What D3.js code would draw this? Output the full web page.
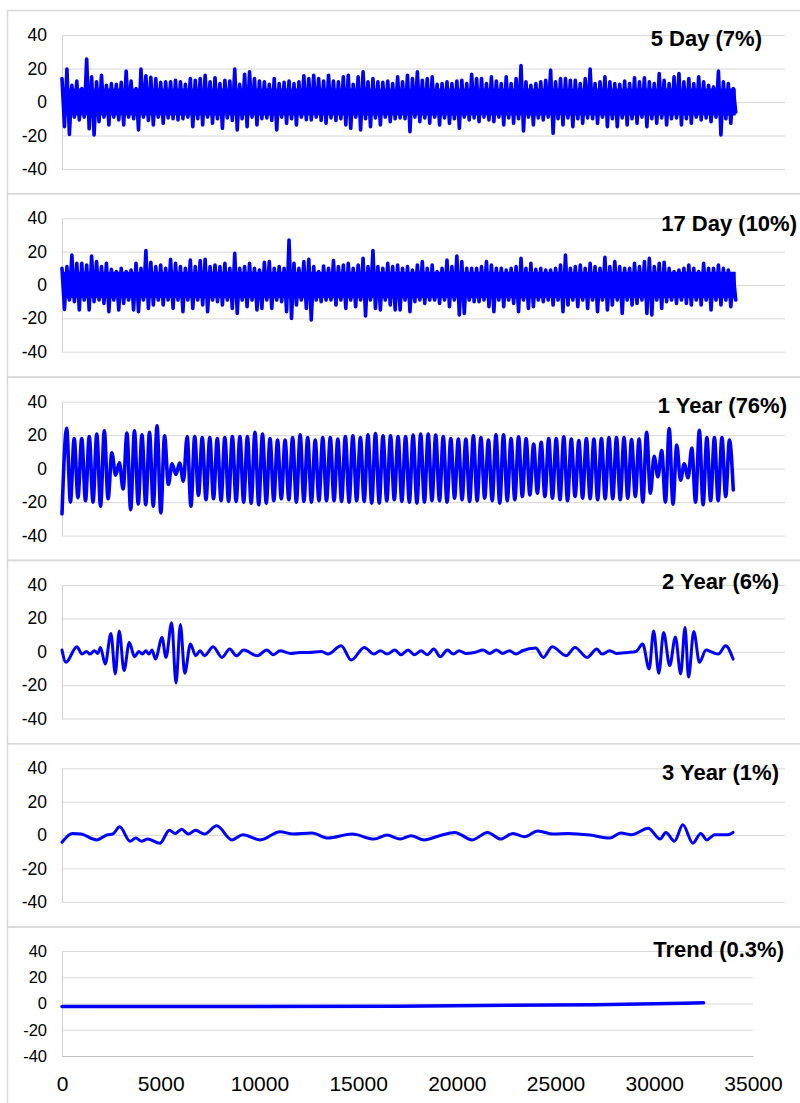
<!DOCTYPE html>
<html>
<head>
<meta charset="utf-8">
<script src="https://cdn.jsdelivr.net/npm/d3@7"></script>
<style>
  body { margin: 0; background: #fff; }
  svg { display: block; }
  text { font-family: "Liberation Sans", Arial, sans-serif; fill: #000; }
</style>
</head>
<body>
<svg id="chart" width="800" height="1103"></svg>
<script>

/* ---------- データ ---------- */

// 軸の目盛
const xTicks = [0, 5000, 10000, 15000, 20000, 25000, 30000, 35000];
const yTicks = [-40, -20, 0, 20, 40];

// パネルのタイトル
const titles = ["5 Day (7%)", "17 Day (10%)", "1 Year (76%)", "2 Year (6%)", "3 Year (1%)", "Trend (0.3%)"];

// 5 Day / 17 Day : 250 日ごとの上側・下側の振れ幅
const envStep = 250;
const coreLevel = 8;   // 帯が途切れずに塗りつぶされている幅
const fiveDayUpper = [
  14, 19.7, 10, 12.5, 8, 25.7, 15, 12, 16, 10,
  11, 10.5, 11.7, 18.5, 12.5, 8, 19.7, 15.7, 14.7, 14,
  11.7, 12, 12, 13, 12, 10.5, 14, 13, 14, 16,
  12, 14.5, 11, 13, 12.5, 19.7, 10.5, 16.5, 18, 14,
  12.5, 12, 10.5, 14, 11, 11.7, 12.5, 11, 12, 15.7,
  14, 16, 14, 12.5, 16, 12.5, 12, 15, 16, 10.5,
  15, 18, 12, 14, 12, 11.7, 12.5, 11, 15, 12,
  16, 14, 18, 13, 14, 15, 10.5, 11, 12, 11,
  12.5, 13, 11, 16.5, 14, 14, 11, 15, 12.5, 11,
  15, 11, 14, 21.7, 12, 10, 11, 12, 13, 19,
  12, 14, 14, 13, 13, 11, 14, 19.7, 11, 12,
  15, 12, 11, 10.5, 12.5, 11, 14.5, 12, 14.5, 12,
  11, 17, 13, 11, 15, 17, 12, 14, 11, 15,
  12, 10, 9, 18.5, 12, 11, 8
];
const fiveDayLower = [
  -14.7, -19.3, -9, -10.7, -9, -16, -19.7, -11.7, -9, -13.7,
  -9, -10.7, -13.7, -9, -10, -16.7, -9, -11, -13.7, -9,
  -12.7, -9.5, -10, -10.7, -10, -9, -14.7, -10, -13.7, -9,
  -12.7, -10, -15.7, -9.5, -11, -16.7, -10, -14.7, -9, -13.7,
  -10, -9.5, -11, -16.7, -9, -12.7, -10, -13.7, -9, -10.5,
  -10.7, -9, -11, -12.7, -9.5, -11, -10, -13.7, -15.7, -9,
  -16.7, -10, -14.7, -9.5, -13.7, -9, -11.7, -10, -9.5, -10,
  -17.7, -9, -11.7, -9.5, -12.7, -9, -13.7, -9.5, -12.7, -10,
  -15.7, -9, -10.7, -9.5, -11.7, -9, -10.7, -11.7, -9, -13.7,
  -9.5, -12.7, -10, -17.3, -9, -13.7, -9.5, -10.7, -9, -18.7,
  -10, -13.7, -9.5, -14.7, -10, -12.7, -9.5, -10, -12.7, -9,
  -14.7, -10, -14.7, -9.5, -13.7, -10, -12.7, -9, -14.7, -10,
  -12.7, -9.5, -13.7, -10, -9.5, -13.7, -10, -12.7, -9, -10.7,
  -9.5, -11.7, -9, -19.7, -10, -12.7, -6
];
const seventeenDayUpper = [
  10, 11, 18, 13, 13, 12, 17.4, 14, 11, 13,
  9.4, 8, 10, 8, 9, 13, 10, 20.6, 13.6, 11,
  12, 10, 15.4, 13, 11, 10, 15, 11, 14.6, 15.4,
  11, 12, 11, 13, 10, 19, 10, 11, 13, 10,
  9, 13.6, 14, 10, 11, 10, 27, 13, 10, 14,
  15.4, 11, 8, 11.4, 10, 14.6, 11, 12, 13, 10,
  12, 16, 11, 20.6, 11, 10, 13, 11, 12, 10,
  11, 9, 12, 14, 10, 12, 8, 10, 15, 11,
  17.4, 14, 10, 10, 10, 11, 14, 12, 10, 10,
  9, 10, 11, 16, 10, 13, 9.4, 10, 9, 9,
  10, 12, 18, 10, 11, 12, 10, 13, 11, 10,
  16.6, 11, 14, 11, 10, 10, 13, 11, 14, 16,
  11, 13, 13.6, 10, 8, 9, 10, 12, 10, 8,
  13, 10, 10, 12, 10, 9, 6
];
const seventeenDayLower = [
  -14.6, -9, -10, -15, -9, -15, -10, -9, -11, -16,
  -9, -15, -11, -9, -15, -16, -9, -14, -12, -9,
  -12, -9, -14, -9, -16, -9, -14, -9, -12, -16,
  -9, -10, -12, -9, -14, -17, -9, -13, -9, -15,
  -14, -9, -14, -9, -10, -16, -20, -12, -9, -14,
  -21, -9, -10, -9, -9, -12, -9, -14, -9, -13,
  -9, -18.6, -9, -14, -15, -9, -12, -15, -15, -9,
  -16, -10, -9, -11, -9, -9, -11, -9, -13, -9,
  -18, -17, -9, -10, -10, -9, -13, -16, -9, -13,
  -9, -11, -16, -9, -14, -13, -9, -10, -9, -12,
  -9, -16, -12, -9, -13, -9, -14, -9, -16, -9,
  -15, -12, -9, -17, -9, -12, -11, -9, -17, -18,
  -9, -14, -10, -9, -11, -9, -11, -12, -9, -12,
  -9, -15, -9, -12, -9, -13, -9
];

// 1 Year : 各周期の山と谷
const oneYearFirstPeak = 236;
const oneYearPeriod = 381.5;
const oneYearStart = -27;
const oneYearEnd = -12.7;
const oneYearLastX = 34000;
const oneYearPeaks = [
  24.1, 18, 18, 19.2, 20.6, 22.5, 9.4, 3.5, 21.2, 22.5,
  20.2, 21.6, 25.5, 19.6, 2.9, 3.3, 19.2, 19.2, 18.6, 18.6,
  18, 18.6, 19.2, 19.2, 19.2, 21.6, 20.6, 18, 17, 17,
  18.6, 20.2, 18.6, 17, 18.6, 18.6, 17.6, 19.2, 19.6, 18.6,
  20.2, 21, 19.6, 19.6, 19.2,
  19.2, 20, 20.6, 20.6, 20, 19.2, 18, 17.6, 17.6, 19.6,
  18.6, 17, 20.2, 20.2, 18, 19, 18, 14.7, 15.7, 18,
  18, 19, 17.6, 16.7, 18, 17.6, 18, 18.6, 18.6, 18.6,
  17.3, 17.6, 21.6, 7.3, 10.8, 23.9, 14.1, 2.9, 12.2, 22.9,
  18.6, 18.6, 18.6, 17
];
const oneYearTroughs = [
  -20, -17.3, -19.2, -20, -22.5, -18, -3.9, -12.2, -24.5, -21.2,
  -21.6, -22.5, -26.5, -9.4, -3.5, -7.5, -22.5, -16, -18.6, -18,
  -19.2, -19.6, -19.6, -20, -20.6, -21.6, -20.6, -19.2, -18, -18.6,
  -20, -19.6, -20, -19.2, -19.2, -19.2, -19.6, -20, -19.2, -19.6,
  -20.6, -20.6, -19.2, -18.6,
  -19.6, -20, -20.6, -20, -19.2, -19.2, -20, -17.6, -18.6, -19.6,
  -19.2, -17.6, -19.2, -20.6, -19.2, -18.6, -16.7, -15.7, -14.7, -16.7,
  -17.6, -18.6, -19.2, -16.7, -17.6, -18, -18.6, -18, -18, -18.6,
  -17.6, -16.7, -20, -14.7, -4.9, -20, -21.2, -6.9, -5.5, -20,
  -21.6, -19.2, -19.2, -16.7
];

// 2 Year : 山と谷の位置と値
const twoYearX = [
  0, 198, 752, 1017, 1238, 1415, 1637, 1814, 1947, 2190,
  2478, 2699, 2898, 3142, 3407, 3673, 3894, 4071, 4248, 4403,
  4558, 4735, 5067, 5266, 5554, 5775, 5996, 6218, 6505, 6771,
  6992, 7214, 7656, 8099, 8497, 8829, 9205, 9891, 10378, 10710,
  11042, 11595, 12038, 12480, 13144, 13476, 14140, 14649, 15313, 15800,
  16132, 16464, 16862, 17172, 17526, 17858, 18190, 18500, 18832, 19164,
  19518, 19828, 20115, 20447, 20888, 21332, 21664, 21996, 22328, 22660,
  22992, 23324, 23988, 24386, 24829, 25537, 25980, 26599, 27086, 27352,
  27750, 28082, 28636, 29078, 29410, 29742, 29966, 30229, 30471, 30782,
  31070, 31336, 31557, 31735, 32000, 32287, 32619, 32951, 33238, 33615,
  33990
];
const twoYearY = [
  1.0, -6.3, 3, -1.4, 0.2, -1.4, 0.6, -1, 2.6, -7.3,
  10.9, -13.3, 12.5, -11.3, 5.5, -3, 0.2, -1.4, 0.6, -1.4,
  1, -4.4, 8.5, -3.4, 17.4, -18.8, 16.4, -12.9, 4.6, -2.4,
  0.6, -2.4, 3, -3.4, 1.6, -2.4, 1, -2.4, 1, -1.8,
  0.6, -1, -0.4, -0.4, 0.2, -1.4, 3.6, -5, 2.6, -1.4,
  0.6, -1.4, 1, -1.8, 1, -1.8, 0.6, -1.8, 1.6, -3,
  1, -1.4, 0.6, -1, -0.4, 1, -1, 1, -1, 0.6,
  -1.4, 0.6, 2.2, -3.4, 3, -2.4, 2.6, -3.4, 1.6, -1.4,
  0.6, -1, -0.4, 0.2, 4.6, -10.3, 12.5, -12.9, 11.5, -8.3,
  8.9, -13.3, 14.5, -15.2, 12.1, -6.3, 1, -0.4, -1.4, 3.6,
  -4.4
];

// 3 Year
const threeYearX = [
  0, 530, 973, 1747, 2301, 2566, 2920, 3451, 3739, 4027,
  4337, 4956, 5443, 5731, 6063, 6395, 6771, 7214, 7834, 8608,
  9161, 10046, 11042, 11706, 12657, 13476, 14694, 15800, 16464, 17128,
  17681, 18345, 19119, 19894, 20779, 21554, 22218, 22837, 23435, 24099,
  24874, 25649, 26751, 27750, 28303, 28857, 29697, 30296, 30583, 31025,
  31446, 31955, 32353, 32663, 33061, 33725, 33990
];
const threeYearY = [
  -4.3, 1, 0.6, -2.9, 0.2, 0.6, 4.9, -3.7, -1.8, -3.7,
  -2.4, -4.9, 2.9, 1, 3.5, 0.6, 2.9, 0.6, 5.5, -2.9,
  0.2, -2.9, 2, 0.6, 1.2, -1.8, 0.6, -2.4, 0, -2.4,
  -0.4, -2.9, -0.4, 1.6, -2.9, 1.6, -2.4, 1, -1, 2.5,
  0.6, 1, 0, -1.8, 1.2, 0.2, 4.1, -2.4, 1.6, -3.7,
  6.1, -4.9, 1, -2.9, 0.2, 0.2, 1.6
];

// Trend
const trendX = [0, 8000, 17000, 27000, 32500];
const trendY = [-2.3, -2.3, -2.0, -0.9, 0.5];


/* ---------- 点列を組み立てる ---------- */

// 上下の振れ幅を交互にたどるジグザグ
function zigzag(upper, lower, step) {
  let pts = [];
  upper.forEach((u, i) => {
    pts.push([i * step, u]);
    pts.push([i * step + step / 2, lower[i]]);
  });
  return pts;
}

// 山・谷を交互に並べる
function peaksTroughs() {
  let pts = [[0, oneYearStart]];
  oneYearPeaks.forEach((p, k) => {
    let x = oneYearFirstPeak + oneYearPeriod * k;
    pts.push([x, p]);
    if (k < oneYearTroughs.length) pts.push([x + oneYearPeriod / 2, oneYearTroughs[k]]);
  });
  pts.push([oneYearLastX, oneYearEnd]);
  return pts;
}

const zipXY = (xs, ys) => xs.map((x, i) => [x, ys[i]]);

const series = [
  { pts: zigzag(fiveDayUpper, fiveDayLower, envStep), curve: d3.curveLinear, band: true },
  { pts: zigzag(seventeenDayUpper, seventeenDayLower, envStep), curve: d3.curveLinear, band: true },
  { pts: peaksTroughs(), curve: d3.curveMonotoneX },
  { pts: zipXY(twoYearX, twoYearY), curve: d3.curveMonotoneX },
  { pts: zipXY(threeYearX, threeYearY), curve: d3.curveMonotoneX },
  { pts: zipXY(trendX, trendY), curve: d3.curveMonotoneX },
];


/* ---------- レイアウト ---------- */

const W = 800;
const plotLeft = 62;
const panelH = 183.3;
const layout = [
  { box: 10.5, top: 35, h: 134, gridRight: 785, tx: 762, ty: 46, lw: 3.6, fs: 17.5 },
  { box: 193.8, top: 218.3, h: 133.4, gridRight: 785, tx: 797, ty: 231, lw: 3.6, fs: 17.5 },
  { box: 377.1, top: 401.6, h: 134, gridRight: 785, tx: 787, ty: 413, lw: 3.6, fs: 17.5 },
  { box: 560.4, top: 585, h: 133.5, gridRight: 785, tx: 779, ty: 589, lw: 3, fs: 17.5 },
  { box: 743.7, top: 768.3, h: 133.5, gridRight: 785, tx: 779, ty: 780, lw: 3, fs: 17.5 },
  { box: 927, top: 951, h: 105, gridRight: 753, tx: 784, ty: 957, lw: 3.5, fs: 16.5 },
];

const svg = d3.select("#chart");
svg.append("rect").attr("width", W).attr("height", 1103).attr("fill", "#fff");

const x = d3.scaleLinear().domain([0, 35000]).range([plotLeft, 753]);

layout.forEach((L, i) => {

  // 枠
  svg.append("rect")
    .attr("x", 7.5).attr("y", L.box)
    .attr("width", 830).attr("height", i < 5 ? panelH : 220)
    .attr("fill", "none")
    .attr("stroke", "#d9d9d9")
    .attr("stroke-width", 1.5);

  let g = svg.append("g");
  let y = d3.scaleLinear().domain([-40, 40]).range([L.top + L.h, L.top]);

  // y 軸とグリッド
  let ax = g.append("g")
    .attr("transform", `translate(${plotLeft},0)`)
    .call(d3.axisLeft(y)
      .tickValues(yTicks)
      .tickFormat(d => String(d))
      .tickSize(-(L.gridRight - plotLeft))
      .tickSizeOuter(0)
      .tickPadding(15));
  ax.select(".domain").attr("stroke", "#d0d0d0");
  ax.selectAll(".tick line").attr("stroke", "#d9d9d9");
  ax.selectAll(".tick text")
    .attr("font-size", L.fs + "px")
    .attr("font-family", "'Liberation Sans', Arial, sans-serif")
    .attr("fill", "#000");

  // x 軸（一番下のパネルだけ）
  if (i === layout.length - 1) {
    let bx = g.append("g")
      .attr("transform", `translate(0,${L.top + L.h})`)
      .call(d3.axisBottom(x)
        .tickValues(xTicks)
        .tickFormat(d => String(d))
        .tickSize(0)
        .tickPadding(20));
    bx.select(".domain").attr("stroke", "#bfbfbf");
    bx.selectAll(".tick text")
      .attr("font-size", "21px")
      .attr("font-family", "'Liberation Sans', Arial, sans-serif")
      .attr("fill", "#000");
  }

  // 細かい振動の帯：中心部分は塗りつぶしておく
  if (series[i].band) {
    let area = d3.area()
      .x(d => x(d[0]))
      .y0(y(-coreLevel))
      .y1(y(coreLevel));
    g.append("path")
      .datum([series[i].pts[0], series[i].pts[series[i].pts.length - 1]])
      .attr("d", area)
      .attr("fill", "#0000ff");
  }

  // 系列
  let line = d3.line()
    .x(d => x(d[0]))
    .y(d => y(d[1]))
    .curve(series[i].curve);
  g.append("path")
    .datum(series[i].pts)
    .attr("d", line)
    .attr("fill", "none")
    .attr("stroke", "#0000ff")
    .attr("stroke-width", L.lw)
    .attr("stroke-linejoin", "round")
    .attr("stroke-linecap", "round");

  // タイトル
  g.append("text")
    .attr("x", L.tx).attr("y", L.ty)
    .attr("text-anchor", "end")
    .attr("font-size", "22px")
    .attr("font-weight", "bold")
    .text(titles[i]);

});

</script>
</body>
</html>
